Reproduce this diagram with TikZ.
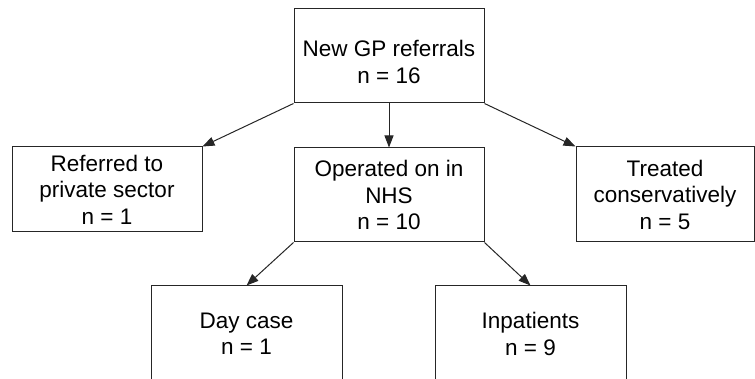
\documentclass[tikz,border=0pt]{standalone}
\usepackage{fontspec}
\setmainfont{Liberation Sans}
\usetikzlibrary{arrows.meta}

\tikzset{
  flowbox/.style={draw=black!85, line width=1pt, align=center, inner sep=0pt,
    minimum width=190pt, minimum height=94pt,
    font=\fontsize{22.5}{26.5}\selectfont},
  flowarrow/.style={draw=black!85, line width=1pt,
    -{Triangle[length=12pt,width=9pt]}}
}

\begin{document}
\begin{tikzpicture}[x=1pt,y=-1pt]
\def\xoffset{0}
\def\yoffset{0}
\clip (0,0) rectangle (755,379);

% top row
\node[flowbox] (referrals) at (389 + \xoffset,56 + \yoffset) {\rule{0pt}{28pt}New GP referrals\\n = 16};

% middle row
\node[flowbox, minimum height=85pt] (private) at (107 + \xoffset,189.5 + \yoffset) {Referred to\\private sector\\n = 1};
\node[flowbox] (nhs) at (389 + \xoffset,195 + \yoffset) {Operated on in\\NHS\\n = 10};
\node[flowbox, minimum width=178pt, minimum height=95pt] (conserv) at (665 + \xoffset,194.5 + \yoffset) {Treated\\conservatively\\n = 5};

% bottom row
\node[flowbox, minimum width=191pt, minimum height=96pt] (daycase) at (246.5 + \xoffset,334 + \yoffset) {Day case\\n = 1};
\node[flowbox, minimum width=191pt, minimum height=96pt] (inpat) at (530.5 + \xoffset,334 + \yoffset) {Inpatients\\n = 9};

\draw[flowarrow] (referrals.south west) -- (private.north east);
\draw[flowarrow] (referrals.south) -- (nhs.north);
\draw[flowarrow] (referrals.south east) -- (conserv.north west);
\draw[flowarrow] (nhs.south west) -- (daycase.north);
\draw[flowarrow] (nhs.south east) -- (inpat.north);

\end{tikzpicture}
\end{document}
